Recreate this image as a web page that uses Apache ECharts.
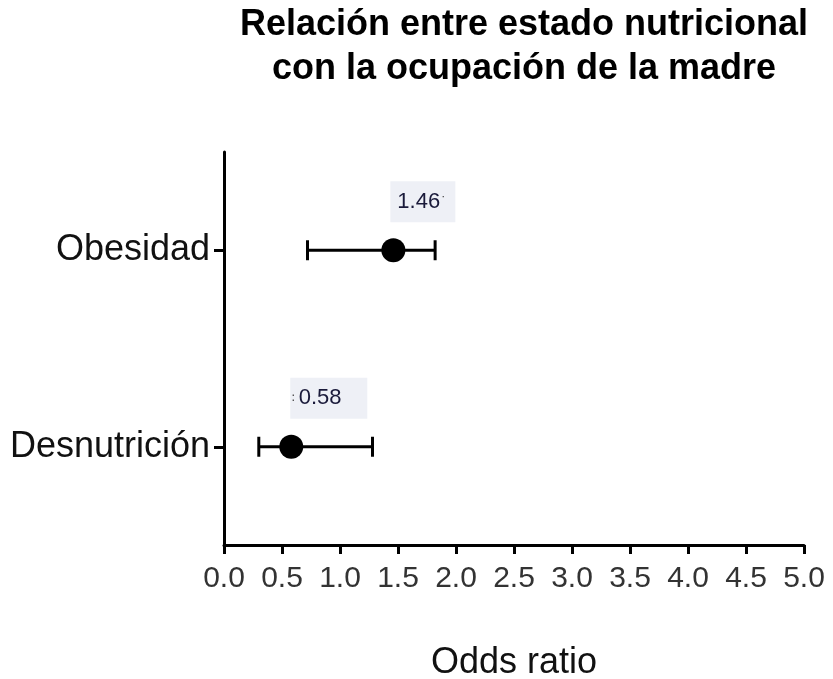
<!DOCTYPE html>
<html><head><meta charset="utf-8">
<script src="https://cdn.jsdelivr.net/npm/echarts@6/dist/echarts.min.js"></script>
<style>html,body{margin:0;padding:0;background:#fff}#c{width:833px;height:679px}</style>
</head><body><div id="c"></div>
<script>
const categories = ['Obesidad', 'Desnutrición'];
const oddsRatio = [1.46, 0.58];
const ciLower = [0.72, 0.30];
const ciUpper = [1.82, 1.28];
const valueLabels = ['1.46', '0.58'];

const chart = echarts.init(document.getElementById('c'), null, {renderer: 'canvas'});
const errData = categories.map((c, i) => [i, ciLower[i], ciUpper[i]]);
const ptData = categories.map((c, i) => ({
  value: [oddsRatio[i], i],
  label: i === 0 ? {
    formatter: '{v|' + valueLabels[i] + '}{d|˙}',
    width: 58, padding: [0, 0, 0, 7], position: [9, -57]
  } : {
    formatter: '{d|:} {v|' + valueLabels[i] + '}',
    width: 76, padding: [0, 0, 0, 1], position: [11, -57]
  }
}));

chart.setOption({
  animation: false,
  title: {
    text: 'Relación entre estado nutricional\ncon la ocupación de la madre',
    left: 519, top: -2, textAlign: 'center',
    textStyle: {fontFamily: 'Liberation Sans, Arial', fontWeight: 'bold', fontSize: 36, lineHeight: 44, color: '#000'}
  },
  grid: {left: 224, right: 29, top: 152, bottom: 134, outerBoundsMode: 'none', containLabel: false},
  xAxis: {
    type: 'value', min: 0, max: 5, interval: 0.5,
    name: 'Odds ratio', nameLocation: 'middle', nameGap: 100,
    nameTextStyle: {fontFamily: 'Liberation Sans, Arial', fontSize: 36, color: '#111'},
    axisLine: {show: true, lineStyle: {color: '#000', width: 3}},
    axisTick: {show: true, length: 9, lineStyle: {color: '#000', width: 3}},
    axisLabel: {margin: 19, fontFamily: 'Liberation Sans, Arial', fontSize: 30, color: '#333',
      formatter: v => v.toFixed(1)},
    splitLine: {show: false}
  },
  yAxis: {
    type: 'category', data: categories, inverse: true,
    axisLine: {show: true, lineStyle: {color: '#000', width: 3}},
    axisTick: {show: true, alignWithLabel: true, length: 10, lineStyle: {color: '#000', width: 3}},
    axisLabel: {margin: 14, fontFamily: 'Liberation Sans, Arial', fontSize: 36, color: '#111'},
    splitLine: {show: false}
  },
  series: [
    {
      type: 'custom',
      data: errData,
      encode: {x: [1, 2], y: 0},
      z: 2,
      renderItem: function (params, api) {
        const lo = api.coord([api.value(1), api.value(0)]);
        const hi = api.coord([api.value(2), api.value(0)]);
        const h = 10;
        const st = {stroke: '#000', lineWidth: 3};
        return {
          type: 'group',
          children: [
            {type: 'line', shape: {x1: lo[0], y1: lo[1], x2: hi[0], y2: hi[1]}, style: st},
            {type: 'line', shape: {x1: lo[0], y1: lo[1] - h, x2: lo[0], y2: lo[1] + h}, style: st},
            {type: 'line', shape: {x1: hi[0], y1: hi[1] - h, x2: hi[0], y2: hi[1] + h}, style: st}
          ]
        };
      }
    },
    {
      type: 'scatter',
      data: ptData,
      symbolSize: 24,
      z: 3,
      itemStyle: {color: '#000', opacity: 1},
      emphasis: {disabled: true},
      label: {
        show: true, align: 'left', verticalAlign: 'top',
        backgroundColor: '#eef0f6', height: 41,
        rich: {
          v: {fontFamily: 'Liberation Sans, Arial', fontSize: 22, color: '#1a1a3a', lineHeight: 41},
          d: {fontFamily: 'DejaVu Sans, sans-serif', fontSize: 12, color: '#444', lineHeight: 41}
        }
      }
    }
  ]
});
</script></body></html>
